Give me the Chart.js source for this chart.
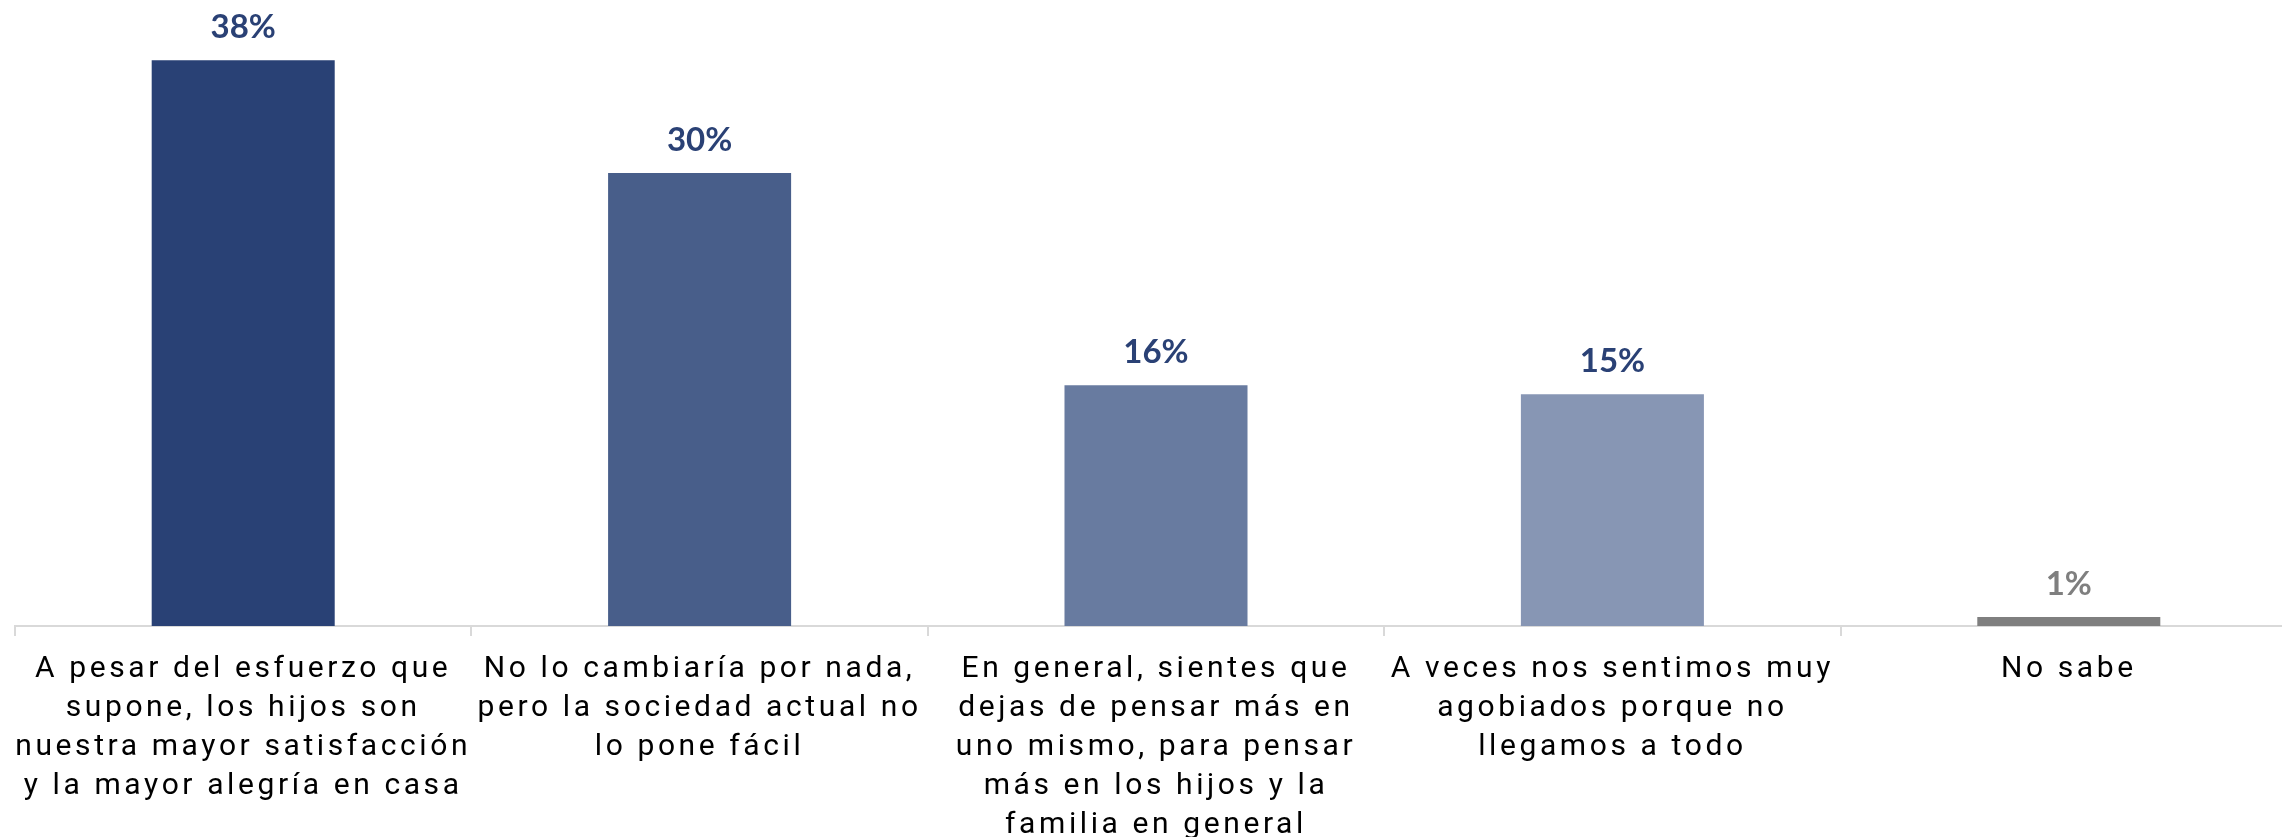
<!DOCTYPE html>
<html>
<head>
<meta charset="utf-8">
<script src="https://cdn.jsdelivr.net/npm/chart.js@4"></script>
<style>
  html, body { margin: 0; padding: 0; overflow: hidden; background: #ffffff; }
  #wrap { width: 2297px; height: 837px; }
</style>
</head>
<body>
<div id="wrap"><canvas id="c" width="2297" height="837"></canvas></div>
<script>
const categories = [
  ["A pesar del esfuerzo que", "supone, los hijos son", "nuestra mayor satisfacción", "y la mayor alegría en casa"],
  ["No lo cambiaría por nada,", "pero la sociedad actual no", "lo pone fácil"],
  ["En general, sientes que", "dejas de pensar más en", "uno mismo, para pensar", "más en los hijos y la", "familia en general"],
  ["A veces nos sentimos muy", "agobiados porque no", "llegamos a todo"],
  ["No sabe"]
];
const values = [37.6, 30.1, 16.0, 15.4, 0.6];

const barColors = ["#294175", "#485e8a", "#687ba0", "#8796b4", "#7f7f7f"];
const labelColors = ["#2a4175", "#2a4175", "#2a4175", "#2a4175", "#7f7f7f"];

const spacingPlugin = {
  id: 'spacing',
  beforeDraw(chart) { chart.ctx.letterSpacing = '3.6px'; }
};

const dataLabels = {
  id: 'dataLabels',
  afterDatasetsDraw(chart) {
    const ctx = chart.ctx;
    const meta = chart.getDatasetMeta(0);
    ctx.save();
    ctx.letterSpacing = '0px';
    ctx.font = 'bold 33px Lato';
    ctx.textAlign = 'center';
    ctx.textBaseline = 'alphabetic';
    meta.data.forEach((bar, i) => {
      ctx.fillStyle = labelColors[i];
      ctx.fillText(Math.round(values[i]) + '%', bar.x, bar.y - 22);
    });
    ctx.restore();
  }
};

new Chart(document.getElementById('c'), {
  type: 'bar',
  data: {
    labels: categories,
    datasets: [{
      data: values,
      backgroundColor: barColors,
      borderWidth: 0,
      barPercentage: 1,
      categoryPercentage: 0.401
    }]
  },
  options: {
    responsive: false,
    animation: false,
    devicePixelRatio: 1,
    layout: { padding: { left: 15, right: 0, top: 0, bottom: 0 } },
    plugins: { legend: { display: false }, tooltip: { enabled: false } },
    scales: {
      y: { display: false, min: 0, max: 41.6 },
      x: {
        afterFit(scale) { scale.height = 211; },
        border: { display: true, color: '#d9d9d9', width: 2 },
        grid: { display: true, drawOnChartArea: false, drawTicks: true, tickLength: 10, color: '#d9d9d9', lineWidth: 2, offset: true },
        ticks: {
          color: '#000000',
          font: { family: 'Roboto', size: 30, lineHeight: 1.3 },
          padding: 14,
          maxRotation: 0,
          minRotation: 0,
          autoSkip: false
        }
      }
    }
  },
  plugins: [spacingPlugin, dataLabels]
});
</script>
</body>
</html>
